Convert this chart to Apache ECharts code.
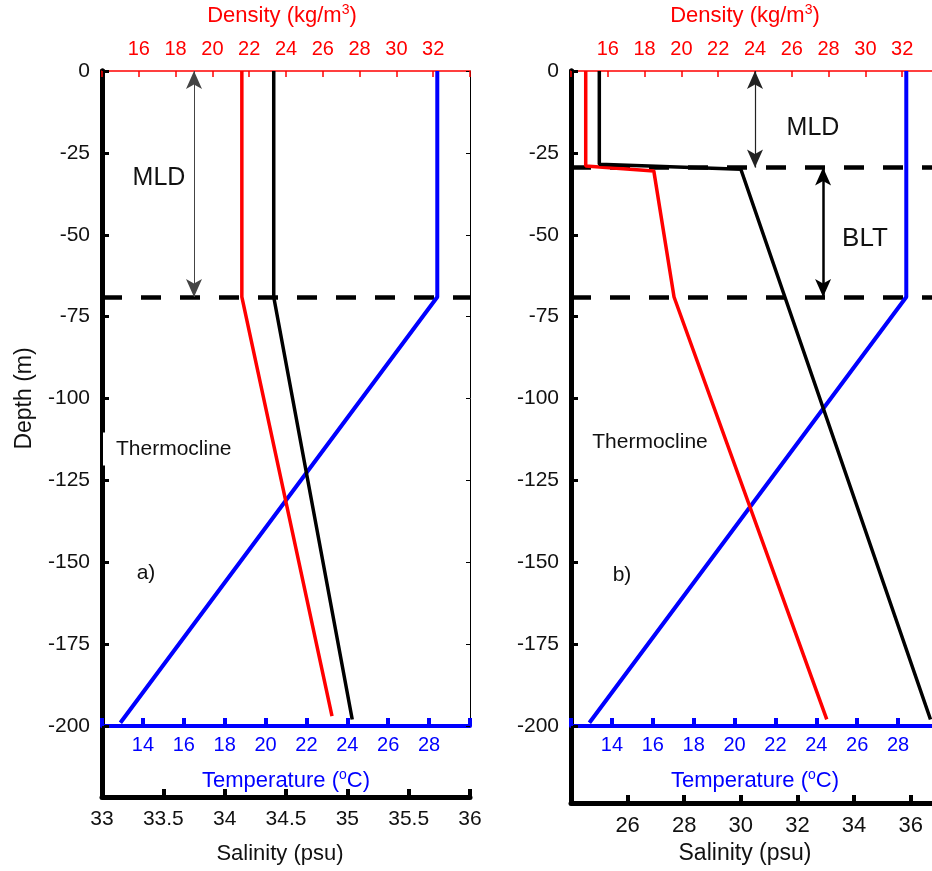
<!DOCTYPE html>
<html><head><meta charset="utf-8">
<script src="https://cdn.jsdelivr.net/npm/echarts@6/dist/echarts.min.js"></script>
<style>html,body{margin:0;padding:0;background:#fff}#c{width:932px;height:871px}</style>
</head><body><div id="c"></div>
<script>
// ---------- data (x value, depth m) ----------
const leftTemp = [[28.4, 0], [28.4, -69], [12.9, -199]];
const leftDens = [[21.6, 0], [21.6, -69], [26.5, -197]];
const leftSal  = [[34.4, 0], [34.4, -69], [35.04, -198]];
const rightTemp = [[28.4, 0], [28.4, -69], [12.9, -199]];
const rightDens = [[14.8, 0], [14.8, -29], [18.5, -30.5], [19.6, -69], [27.9, -198]];
const rightSal  = [[25, 0], [25, -28.5], [30, -30], [36.7, -198]];
const leftMLD = -69;
const rightMLD = -29.5;
const rightBLTBase = -69;
const leftArrowX = 19;      // density units
const rightMLDArrowX = 24;  // density units
const rightBLTArrowX = 27.7;
// tick labels
const depthTickLabels = [0, -25, -50, -75, -100, -125, -150, -175, -200];
const tempTickLabels = [14, 16, 18, 20, 22, 24, 26, 28];
const densTickLabels = [16, 18, 20, 22, 24, 26, 28, 30, 32];
const salLeftTickLabels = [33, 33.5, 34, 34.5, 35, 35.5, 36];
const salRightTickLabels = [26, 28, 30, 32, 34, 36];

const FONT = '"Liberation Sans", Arial, Helvetica, sans-serif';
const BLUE = '#0000ff', RED = '#ff0000', BLACK = '#000000', TXT = '#111111';

function only(list) { return v => (list.some(t => Math.abs(t - v) < 1e-6) ? String(v) : ''); }

function tempAxis(grid) {
  return {
    type: 'value', gridIndex: grid, position: 'bottom', min: 12, max: 30, interval: 2,
    axisLine: { onZero: false, lineStyle: { color: BLUE, width: 4 } },
    axisTick: { inside: true, length: 8, lineStyle: { color: BLUE, width: 4 } },
    axisLabel: { color: BLUE, fontSize: 20, fontFamily: FONT, margin: 9, formatter: only(tempTickLabels) },
    splitLine: { show: false },
    name: '{a|Temperature (}{s|o}{a|C)}', nameLocation: 'middle', nameGap: 42,
    nameTextStyle: { fontFamily: FONT, color: BLUE, rich: {
      a: { fontSize: 22, fontFamily: FONT, color: BLUE, lineHeight: 26 },
      s: { fontSize: 14, fontFamily: FONT, color: BLUE, verticalAlign: 'top', lineHeight: 14 } } }
  };
}
function densAxis(grid, shift) {
  return {
    type: 'value', gridIndex: grid, position: 'top', min: 14, max: 34, interval: 2,
    axisLine: { onZero: false, lineStyle: { color: RED, width: 1.5 } },
    axisTick: { inside: true, length: 6, lineStyle: { color: RED, width: 1.5 } },
    axisLabel: { color: RED, fontSize: 20, fontFamily: FONT, margin: 12, formatter: only(densTickLabels) },
    splitLine: { show: false },
    name: '{a|Density (kg/m}{s|3}{a|)}', nameLocation: 'middle', nameGap: 42,
    nameTextStyle: { fontFamily: FONT, color: RED, padding: [0, shift, 0, 0], rich: {
      a: { fontSize: 22, fontFamily: FONT, color: RED, lineHeight: 26 },
      s: { fontSize: 14, fontFamily: FONT, color: RED, verticalAlign: 'top', lineHeight: 14 } } }
  };
}
function salHidden(grid, min, max) {
  return { type: 'value', gridIndex: grid, min: min, max: max, show: false,
    axisLine: { onZero: false }, splitLine: { show: false } };
}
function salVisible(grid, min, max, interval, labels, gap, fs, shift) {
  return {
    type: 'value', gridIndex: grid, position: 'bottom', min: min, max: max, interval: interval,
    axisLine: { onZero: false, lineStyle: { color: BLACK, width: 5 } },
    axisTick: { inside: true, length: 8, lineStyle: { color: BLACK, width: 4 } },
    axisLabel: { color: TXT, fontSize: fs, fontFamily: FONT, margin: 12, formatter: only(labels),
      showMinLabel: true, showMaxLabel: true },
    splitLine: { show: false },
    name: 'Salinity (psu)', nameLocation: 'middle', nameGap: gap,
    nameTextStyle: { fontSize: fs + 1, fontFamily: FONT, color: TXT, padding: [0, shift, 0, 0] }
  };
}
function depthAxis(grid, withName) {
  const a = {
    type: 'value', gridIndex: grid, position: 'left', min: -200, max: 0, interval: 25,
    axisLine: { onZero: false, lineStyle: { color: BLACK, width: 5 } },
    axisTick: { inside: true, length: 7, lineStyle: { color: BLACK, width: 3 } },
    axisLabel: { color: TXT, fontSize: 21, fontFamily: FONT, margin: 12, formatter: only(depthTickLabels) },
    splitLine: { show: false }
  };
  if (withName) {
    a.name = 'Depth (m)'; a.nameLocation = 'middle'; a.nameGap = 66;
    a.nameTextStyle = { fontSize: 23, fontFamily: FONT, color: TXT };
  }
  return a;
}
function frameY(grid) {
  return { type: 'value', gridIndex: grid, position: 'left', min: 0, max: 1,
    axisLine: { onZero: false, lineStyle: { color: BLACK, width: 5 } },
    axisTick: { show: false }, axisLabel: { show: false }, splitLine: { show: false } };
}

const dashStyle = { color: BLACK, width: 4.5, type: [20, 19] };
function hLines(vals) {
  return { silent: true, symbol: 'none', label: { show: false },
    lineStyle: dashStyle, emphasis: { disabled: true },
    data: vals.map(v => ({ yAxis: v })) };
}
function arrows(list) {
  return { silent: true, symbol: ['arrow', 'arrow'], symbolSize: [12, 18], label: { show: false },
    emphasis: { disabled: true },
    data: list.map(a => [{ coord: [a.x, a.y0], lineStyle: { color: a.c, width: a.w, type: 'solid' } },
                         { coord: [a.x, a.y1] }]) };
}
function line(name, xi, yi, data, color, width, extra) {
  return Object.assign({ type: 'line', name: name, xAxisIndex: xi, yAxisIndex: yi, data: data,
    symbol: 'none', lineStyle: { color: color, width: width }, itemStyle: { color: color },
    animation: false, silent: true, clip: false, z: 5 }, extra || {});
}

const gridBase = { outerBoundsMode: 'none', containLabel: false };
const option = {
  animation: false,
  backgroundColor: '#fff',
  textStyle: { fontFamily: FONT },
  grid: [
    Object.assign({ left: 102, top: 71, width: 368, height: 655 }, gridBase),
    Object.assign({ left: 102, top: 71, width: 368, height: 726 }, gridBase),
    Object.assign({ left: 571, top: 71, width: 368, height: 655 }, gridBase),
    Object.assign({ left: 571, top: 71, width: 368, height: 732 }, gridBase)
  ],
  xAxis: [
    tempAxis(0),
    densAxis(0, 8),
    salHidden(0, 33, 36),
    salVisible(1, 33, 36, 0.5, salLeftTickLabels, 46, 21, 12),
    tempAxis(2),
    densAxis(2, 20),
    salHidden(2, 24, 37),
    salVisible(3, 24, 37, 2, salRightTickLabels, 33, 22, 20)
  ],
  yAxis: [
    depthAxis(0, true),
    { type: 'value', gridIndex: 0, position: 'right', min: -200, max: 0, interval: 25,
      axisLine: { onZero: false, lineStyle: { color: BLACK, width: 1 } },
      axisTick: { inside: true, length: 4, lineStyle: { color: BLACK, width: 1 } },
      axisLabel: { show: false }, splitLine: { show: false } },
    frameY(1),
    depthAxis(2, false),
    frameY(3)
  ],
  series: [
    line('T-a', 0, 0, leftTemp, BLUE, 4, { markLine: hLines([leftMLD]) }),
    line('D-a', 1, 0, leftDens, RED, 3.5, { markLine: arrows([{ x: leftArrowX, y0: 0, y1: leftMLD, c: '#444', w: 1 }]) }),
    line('S-a', 2, 0, leftSal, BLACK, 3.5),
    line('T-b', 4, 3, rightTemp, BLUE, 4),
    line('D-b', 5, 3, rightDens, RED, 3.5, { markLine: arrows([
      { x: rightMLDArrowX, y0: 0, y1: rightMLD, c: '#222', w: 1.2 },
      { x: rightBLTArrowX, y0: rightMLD, y1: rightBLTBase, c: BLACK, w: 2.5 }]) }),
    line('S-b', 6, 3, rightSal, BLACK, 3.5, { markLine: hLines([rightMLD, rightBLTBase]) })
  ],
  graphic: [
    { type: 'text', x: 159, y: 178, z: 100, style: { text: 'MLD', fontSize: 25, fontFamily: FONT, fill: TXT, align: 'center', verticalAlign: 'middle' } },
    { type: 'text', x: 813, y: 128, z: 100, style: { text: 'MLD', fontSize: 25, fontFamily: FONT, fill: TXT, align: 'center', verticalAlign: 'middle' } },
    { type: 'text', x: 865, y: 239, z: 100, style: { text: 'BLT', fontSize: 26, fontFamily: FONT, fill: TXT, align: 'center', verticalAlign: 'middle' } },
    { type: 'text', x: 103, y: 449, z: 100, style: { text: 'Thermocline', fontSize: 21, fontFamily: FONT, fill: TXT, align: 'left', verticalAlign: 'middle',
      backgroundColor: '#fff', padding: [6, 4, 6, 13] } },
    { type: 'text', x: 650, y: 442, z: 100, style: { text: 'Thermocline', fontSize: 21, fontFamily: FONT, fill: TXT, align: 'center', verticalAlign: 'middle' } },
    { type: 'text', x: 146, y: 573, z: 100, style: { text: 'a)', fontSize: 21, fontFamily: FONT, fill: TXT, align: 'center', verticalAlign: 'middle' } },
    { type: 'text', x: 622, y: 575, z: 100, style: { text: 'b)', fontSize: 21, fontFamily: FONT, fill: TXT, align: 'center', verticalAlign: 'middle' } }
  ]
};

const chart = echarts.init(document.getElementById('c'), null, { renderer: 'canvas' });
chart.setOption(option);
</script>
</body></html>
